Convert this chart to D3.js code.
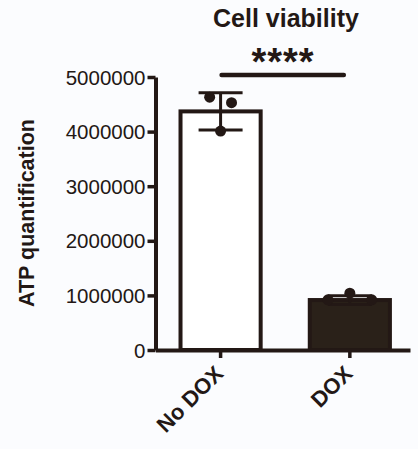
<!DOCTYPE html>
<html>
<head>
<meta charset="utf-8">
<script src="https://cdn.jsdelivr.net/npm/d3@7"></script>
<style>
  body { margin: 0; background: #fbfcfe; }
  svg { display: block; font-family: "Liberation Sans", Arial, sans-serif; }
</style>
</head>
<body>
<div id="chart"></div>
<script>
// data
const groups = ['No DOX', 'DOX'];
const means = [4370000, 915000];
const sds = [340000, 80000];
const replicates = [
  [4630000, 4530000, 4010000],
  [920000, 1040000, 920000]
];
const yTicks = [0, 1000000, 2000000, 3000000, 4000000, 5000000];
const title = 'Cell viability';
const yLabel = 'ATP quantification';
const significance = '****';

const ink = '#231815';
const fills = ['#ffffff', '#2a2119'];
const width = 418, height = 449;

// horizontal spread of the dots, as a share of the bar width
const spread = [[-0.13, 0.13, 0], [-0.26, 0, 0.26]];

const data = groups.map((g, i) => ({ group: g, mean: means[i], sd: sds[i], pts: replicates[i], fill: fills[i] }));

const svg = d3.select('#chart')
  .append('svg')
  .attr('width', width)
  .attr('height', height);

const x = d3.scaleBand()
  .domain(groups)
  .range([155.5, 410])
  .paddingInner(0.349)
  .paddingOuter(0.159)
  .align(0.56);

const y = d3.scaleLinear()
  .domain([0, 5000000])
  .range([350, 77]);

// bars
svg.selectAll('rect.bar')
  .data(data)
  .enter()
  .append('rect')
  .attr('class', 'bar')
  .attr('x', d => x(d.group) + 2)
  .attr('y', d => y(d.mean))
  .attr('width', x.bandwidth() - 4)
  .attr('height', d => y(0) - y(d.mean))
  .attr('fill', d => d.fill)
  .attr('stroke', ink)
  .attr('stroke-width', 4);

// error bars (mean +/- SD)
const cap = 22;
const err = svg.selectAll('g.err')
  .data(data)
  .enter()
  .append('g')
  .attr('class', 'err')
  .attr('stroke', ink)
  .attr('stroke-width', 3);

err.append('line')
  .attr('x1', d => x(d.group) + x.bandwidth() / 2)
  .attr('x2', d => x(d.group) + x.bandwidth() / 2)
  .attr('y1', d => y(d.mean + d.sd))
  .attr('y2', d => y(d.mean - d.sd));

err.append('line')
  .attr('x1', d => x(d.group) + x.bandwidth() / 2 - cap)
  .attr('x2', d => x(d.group) + x.bandwidth() / 2 + cap)
  .attr('y1', d => y(d.mean + d.sd))
  .attr('y2', d => y(d.mean + d.sd));

err.append('line')
  .attr('x1', d => x(d.group) + x.bandwidth() / 2 - cap)
  .attr('x2', d => x(d.group) + x.bandwidth() / 2 + cap)
  .attr('y1', d => y(d.mean - d.sd))
  .attr('y2', d => y(d.mean - d.sd));

// individual replicates
data.forEach((d, i) => {
  svg.selectAll(null)
    .data(d.pts)
    .enter()
    .append('circle')
    .attr('cx', (v, j) => x(d.group) + x.bandwidth() / 2 + spread[i][j] * x.bandwidth())
    .attr('cy', v => y(v))
    .attr('r', 5.5)
    .attr('fill', ink);
});

// axes
const yAxis = d3.axisLeft(y)
  .tickValues(yTicks)
  .tickFormat(d3.format('d'))
  .tickSize(8)
  .tickSizeOuter(0)
  .tickPadding(2);

svg.append('g')
  .attr('class', 'y-axis')
  .attr('transform', 'translate(155.5, 0)')
  .call(yAxis);

const xAxis = d3.axisBottom(x)
  .tickSize(8)
  .tickSizeOuter(0)
  .tickFormat('');

svg.append('g')
  .attr('class', 'x-axis')
  .attr('transform', 'translate(0, 350)')
  .call(xAxis);

d3.selectAll('.x-axis path, .y-axis path').attr('stroke', ink).attr('stroke-width', 4);
d3.selectAll('.x-axis line, .y-axis line').attr('stroke', ink).attr('stroke-width', 3.5);
d3.selectAll('.y-axis text')
  .attr('fill', ink)
  .attr('font-size', 20.5)
  .attr('font-family', '"Liberation Sans", Arial, sans-serif')
  .attr('dy', '0.35em');

// slanted group labels
svg.selectAll('text.xlab')
  .data(groups)
  .enter()
  .append('text')
  .attr('class', 'xlab')
  .attr('transform', d => `translate(${x(d) + x.bandwidth() / 2 + 4}, 375) rotate(-45)`)
  .attr('text-anchor', 'end')
  .attr('font-size', 22)
  .attr('font-weight', 'bold')
  .attr('fill', ink)
  .text(d => d);

// y title
svg.append('text')
  .attr('transform', 'translate(34, 213) rotate(-90)')
  .attr('text-anchor', 'middle')
  .attr('font-size', 21.5)
  .attr('font-weight', 'bold')
  .attr('fill', ink)
  .text(yLabel);

// chart title
svg.append('text')
  .attr('x', 286)
  .attr('y', 27)
  .attr('text-anchor', 'middle')
  .attr('font-size', 25)
  .attr('font-weight', 'bold')
  .attr('fill', ink)
  .text(title);

// significance bracket between the two groups
const c0 = x(groups[0]) + x.bandwidth() / 2;
const c1 = x(groups[1]) + x.bandwidth() / 2;
svg.append('line')
  .attr('x1', c0 + 1)
  .attr('x2', c1 - 6)
  .attr('y1', 75)
  .attr('y2', 75)
  .attr('stroke', ink)
  .attr('stroke-width', 4.5)
  .attr('stroke-linecap', 'round');

svg.append('text')
  .attr('x', 283)
  .attr('y', 75)
  .attr('text-anchor', 'middle')
  .attr('font-size', 38)
  .attr('font-weight', 'bold')
  .attr('letter-spacing', 1)
  .attr('fill', ink)
  .text(significance);
</script>
</body>
</html>
